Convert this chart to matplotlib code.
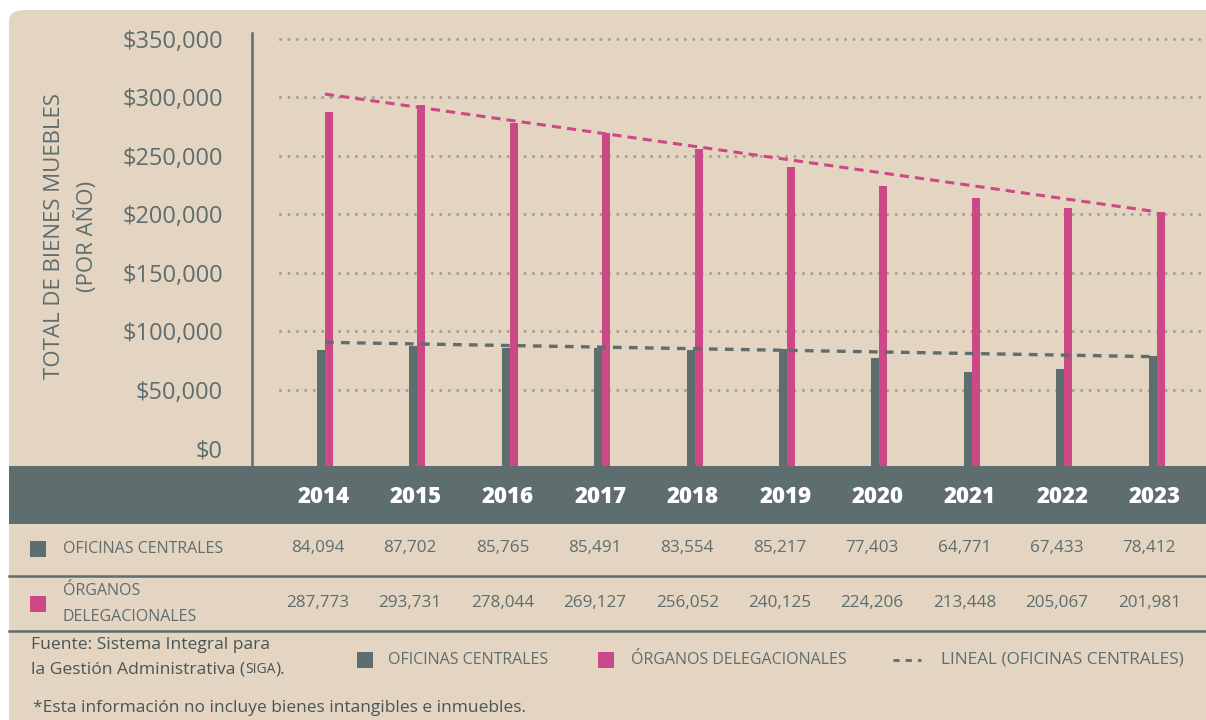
import matplotlib
matplotlib.use("Agg")
import matplotlib.pyplot as plt
from matplotlib import transforms
from matplotlib.patches import FancyBboxPatch, Rectangle
from matplotlib.lines import Line2D
from matplotlib.offsetbox import TextArea, HPacker, AnchoredOffsetbox

plt.rcParams['font.family'] = ['Open Sans', 'DejaVu Sans']

years = [2014, 2015, 2016, 2017, 2018, 2019, 2020, 2021, 2022, 2023]
oficinas = [84094, 87702, 85765, 85491, 83554, 85217, 77403, 64771, 67433, 78412]
organos = [287773, 293731, 278044, 269127, 256052, 240125, 224206, 213448, 205067, 201981]
# end points of the dashed linear trend lines (2014 -> 2023)
trend_oficinas = [90500, 78200]
trend_organos = [302700, 202100]
y_ticks = [0, 50000, 100000, 150000, 200000, 250000, 300000, 350000]

BEIGE = '#e4d5c2'
GRAY = '#5e6d6d'
PINK = '#cc4886'
DOTS = '#a19f98'
TXT = '#5e6d6d'
DARK = '#4a5555'

W, H = 1206, 720
fig = plt.figure(figsize=(12.06, 7.2), dpi=100)
fig.patch.set_facecolor('white')


def fx(x):
    return x / W


def fy(y):
    return 1 - y / H


# beige panel with rounded top-left corner
panel = FancyBboxPatch((fx(9), -0.05), 1.05 - fx(9), fy(10) + 0.05,
                       boxstyle="round,pad=0,rounding_size=0.014",
                       transform=fig.transFigure, fc=BEIGE, ec='none', zorder=-5)
fig.patches.append(panel)

# chart area
ax = fig.add_axes([fx(252), fy(466), (1206 - 252) / W, (466 - 33) / H])
ax.set_facecolor('none')
ymin, ymax = -15200, 354900
ax.set_xlim(-0.79, 9.535)
ax.set_ylim(ymin, ymax)

for t in y_ticks[1:]:
    ax.plot([-0.487, 9.535], [t, t], color=DOTS, lw=2.2,
            ls=(0, (0.01, 2.75)), dash_capstyle='round', zorder=1)

x = list(range(len(years)))
w = 0.087
ax.bar([i - w / 2 for i in x], [v - ymin for v in oficinas], bottom=ymin,
       width=w, color=GRAY, zorder=2)
ax.bar([i + w / 2 for i in x], [v - ymin for v in organos], bottom=ymin,
       width=w, color=PINK, zorder=2)

ax.plot([x[0], x[-1]], trend_organos, color=PINK, lw=2.2,
        ls=(0, (3, 2)), zorder=3)
ax.plot([x[0], x[-1]], trend_oficinas, color=GRAY, lw=2.4,
        ls=(0, (2.6, 2.2)), zorder=3)

for s in ['top', 'right', 'bottom']:
    ax.spines[s].set_visible(False)
ax.spines['left'].set_color(GRAY)
ax.spines['left'].set_linewidth(1.8)
ax.set_xticks([])
ax.set_yticks(y_ticks)
ax.set_yticklabels([f"${v:,}" for v in y_ticks])
ax.tick_params(axis='y', length=0, pad=21, labelsize=17, labelcolor=TXT)

fig.text(fx(71), fy(236), "TOTAL DE BIENES MUEBLES\n(POR AÑO)", rotation=90,
         ha='center', va='center', multialignment='center', fontsize=16,
         color=TXT, linespacing=1.6)

# header band with years
fig.patches.append(Rectangle((fx(9), fy(524)), 1 - fx(9), fy(466) - fy(524),
                             transform=fig.transFigure, fc=GRAY, ec='none',
                             zorder=-1))
trans = transforms.blended_transform_factory(ax.transData, fig.transFigure)
for i, yr in enumerate(years):
    ax.text(i - 0.02, fy(497), str(yr), transform=trans, ha='center', va='center',
            color='white', fontsize=16, fontweight='heavy')
    ax.text(i - 0.08, fy(548), f"{oficinas[i]:,}", transform=trans,
            ha='center', va='center', color=TXT, fontsize=12.3)
    ax.text(i - 0.08, fy(603), f"{organos[i]:,}", transform=trans,
            ha='center', va='center', color=TXT, fontsize=12.3)

# table rows
for yy in [576, 631]:
    fig.add_artist(Line2D([fx(9), 1], [fy(yy), fy(yy)], color=GRAY, lw=1.8,
                          transform=fig.transFigure))
fig.patches.append(Rectangle((fx(30), fy(557)), 16 / W, 16 / H,
                             transform=fig.transFigure, fc=GRAY, ec='none'))
fig.patches.append(Rectangle((fx(30), fy(612)), 16 / W, 16 / H,
                             transform=fig.transFigure, fc=PINK, ec='none'))
fig.text(fx(63), fy(549), "OFICINAS CENTRALES", va='center',
         fontsize=11.5, color=TXT)
fig.text(fx(63), fy(591), "ÓRGANOS", va='center', fontsize=11.5, color=TXT)
fig.text(fx(63), fy(617), "DELEGACIONALES", va='center', fontsize=11.5, color=TXT)

# source note
fig.text(fx(31), fy(645), "Fuente: Sistema Integral para", va='center',
         fontsize=12.6, color=DARK)
parts = [TextArea("la Gestión Administrativa (", textprops=dict(fontsize=12.6, color=DARK)),
         TextArea("SIGA", textprops=dict(fontsize=10, color=DARK)),
         TextArea(").", textprops=dict(fontsize=12.6, color=DARK))]
src = HPacker(children=parts, align="baseline", pad=0, sep=0)
fig.add_artist(AnchoredOffsetbox(loc='center left', child=src, pad=0, borderpad=0,
                                 frameon=False, bbox_to_anchor=(fx(31), fy(669)),
                                 bbox_transform=fig.transFigure))

# legend
fig.patches.append(Rectangle((fx(357), fy(668)), 16 / W, 16 / H,
                             transform=fig.transFigure, fc=GRAY, ec='none'))
fig.text(fx(388), fy(660), "OFICINAS CENTRALES", va='center',
         fontsize=11.5, color=TXT)
fig.patches.append(Rectangle((fx(598), fy(668)), 16 / W, 16 / H,
                             transform=fig.transFigure, fc=PINK, ec='none'))
fig.text(fx(631), fy(660), "ÓRGANOS DELEGACIONALES", va='center',
         fontsize=11.5, color=TXT)
fig.add_artist(Line2D([fx(893), fx(921)], [fy(660), fy(660)], color=GRAY, lw=2,
                      ls=(0, (2.2, 2.2)), transform=fig.transFigure))
fig.text(fx(941), fy(660), "LINEAL (OFICINAS CENTRALES)", va='center',
         fontsize=12.4, color=TXT)

fig.text(fx(33), fy(708), "*Esta información no incluye bienes intangibles e inmuebles.",
         va='center', fontsize=12.5, color=DARK)

fig.savefig("out.png", dpi=100, facecolor=fig.get_facecolor())
